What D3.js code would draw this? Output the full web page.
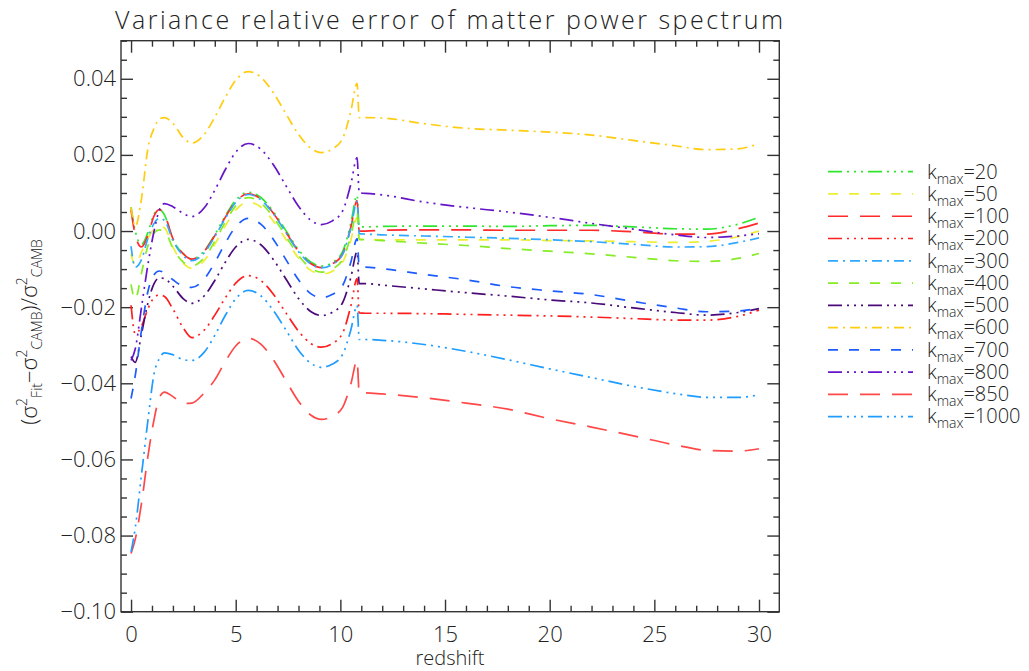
<!DOCTYPE html>
<html>
<head>
<meta charset="utf-8">
<script src="https://cdn.jsdelivr.net/npm/d3@7"></script>
<style>
  body { margin: 0; background: #fff; }
  text { font-family: "Open Sans", "DejaVu Sans", sans-serif; font-weight: 300; fill: #222; }
</style>
</head>
<body>
<script>
// redshift sample points
const redshift = [0, 0.2, 0.5, 0.8, 1.1, 1.35, 1.6, 2, 2.5, 2.9, 3.5, 4, 4.5, 5, 5.6, 6.2, 6.8, 7.4, 8, 8.6, 9.1, 9.6, 10.1, 10.5, 10.8, 10.9, 11.2, 12, 14, 16, 18, 20, 22, 24, 26, 27.5, 29, 30];

const kmax = [20, 50, 100, 200, 300, 400, 500, 600, 700, 800, 850, 1000];

const k20 = [0.0063, 0.0, -0.0035, -0.0005, 0.0045, 0.0057, 0.0042, -0.0022, -0.006, -0.0073, -0.0052, -0.001, 0.0039, 0.0081, 0.0102, 0.0088, 0.0051, 0.0001, -0.0049, -0.0082, -0.0092, -0.0083, -0.0055, 0.002, 0.0094, 0.0011, 0.0011, 0.0012, 0.0013, 0.0013, 0.0012, 0.0014, 0.0015, 0.0011, 0.0006, 0.0005, 0.0018, 0.0036];
const k50 = [-0.006, -0.009, -0.0055, -0.002, 0.0005, 0.0012, 0.0008, -0.0042, -0.0085, -0.0098, -0.0077, -0.0035, 0.0013, 0.0055, 0.0076, 0.0063, 0.0026, -0.0022, -0.0071, -0.0104, -0.0113, -0.0106, -0.0083, -0.0024, 0.0035, -0.0022, -0.0022, -0.0023, -0.0023, -0.0023, -0.0023, -0.0025, -0.0026, -0.0028, -0.003, -0.0027, -0.0015, 0.0];
const k100 = [0.0055, -0.001, -0.0042, -0.0012, 0.004, 0.0056, 0.0043, -0.002, -0.006, -0.0074, -0.0053, -0.0012, 0.0036, 0.0077, 0.0098, 0.0084, 0.0047, -0.0003, -0.0053, -0.0086, -0.0096, -0.0087, -0.0061, 0.001, 0.008, 0.0, 0.0, 0.0002, 0.0003, 0.0003, 0.0002, 0.0002, 0.0002, -0.0002, -0.0008, -0.0008, 0.0006, 0.0021];
const k200 = [-0.0195, -0.027, -0.025, -0.0205, -0.0175, -0.0168, -0.0172, -0.0205, -0.0255, -0.028, -0.026, -0.0221, -0.0176, -0.0137, -0.0117, -0.013, -0.0166, -0.0215, -0.0263, -0.0296, -0.0305, -0.0296, -0.0269, -0.0197, -0.0125, -0.0215, -0.0216, -0.0216, -0.0217, -0.0219, -0.0221, -0.0223, -0.0226, -0.023, -0.0234, -0.0234, -0.0224, -0.0208];
const k300 = [-0.004, -0.0095, -0.0075, -0.002, 0.002, 0.0033, 0.0028, -0.0025, -0.0065, -0.0078, -0.0057, -0.0015, 0.0033, 0.0075, 0.0096, 0.0082, 0.0045, -0.0004, -0.0054, -0.0087, -0.0097, -0.0088, -0.0062, 0.0008, 0.0078, -0.0007, -0.0008, -0.001, -0.0013, -0.0016, -0.0019, -0.0023, -0.0028, -0.0035, -0.0042, -0.0041, -0.003, -0.0018];
const k400 = [-0.014, -0.018, -0.011, -0.004, -0.0005, 0.0003, 0.0, -0.0045, -0.0082, -0.0092, -0.007, -0.0027, 0.0023, 0.0066, 0.0088, 0.0074, 0.0036, -0.0014, -0.0064, -0.0098, -0.0108, -0.01, -0.0076, -0.0013, 0.005, -0.0022, -0.0023, -0.0025, -0.0032, -0.0038, -0.0046, -0.0053, -0.006, -0.0069, -0.0078, -0.008, -0.0072, -0.0059];
const k500 = [-0.033, -0.0345, -0.027, -0.019, -0.0138, -0.0123, -0.0125, -0.0145, -0.0178, -0.019, -0.017, -0.013, -0.0082, -0.0042, -0.0022, -0.0036, -0.0075, -0.0126, -0.0177, -0.0212, -0.0222, -0.0214, -0.0189, -0.0122, -0.0055, -0.0138, -0.0138, -0.0142, -0.0152, -0.0162, -0.0171, -0.0181, -0.0189, -0.0202, -0.0214, -0.0221, -0.0214, -0.0204];
const k600 = [0.0062, 0.0012, 0.0085, 0.0215, 0.027, 0.0294, 0.0298, 0.0283, 0.0245, 0.0231, 0.0254, 0.0299, 0.0351, 0.0396, 0.0419, 0.0404, 0.0363, 0.0308, 0.0254, 0.0217, 0.0206, 0.0215, 0.0242, 0.0315, 0.0388, 0.0298, 0.0298, 0.0297, 0.0282, 0.027, 0.0265, 0.026, 0.0252, 0.0238, 0.0224, 0.0214, 0.0216, 0.023];
const k700 = [-0.044, -0.038, -0.026, -0.016, -0.0115, -0.0105, -0.011, -0.0128, -0.0145, -0.0148, -0.0126, -0.0083, -0.0032, 0.0011, 0.0033, 0.0018, -0.0022, -0.0075, -0.0128, -0.0165, -0.0175, -0.0167, -0.0144, -0.0082, -0.002, -0.0095, -0.0095, -0.0099, -0.0114, -0.0128, -0.0146, -0.0157, -0.0167, -0.0185, -0.0202, -0.0212, -0.021, -0.0202];
const k800 = [-0.034, -0.031, -0.02, -0.009, 0.0, 0.0055, 0.0072, 0.0064, 0.0046, 0.0038, 0.0061, 0.0107, 0.0161, 0.0207, 0.023, 0.0215, 0.0174, 0.0119, 0.0065, 0.0028, 0.0017, 0.0026, 0.0052, 0.0123, 0.0193, 0.01, 0.0099, 0.0095, 0.0076, 0.0062, 0.005, 0.0036, 0.002, 0.0005, -0.001, -0.0017, -0.0013, -0.0007];
const k850 = [-0.0847, -0.081, -0.0715, -0.0594, -0.0495, -0.0438, -0.0423, -0.0435, -0.0453, -0.0452, -0.0425, -0.0391, -0.0343, -0.0302, -0.0282, -0.0297, -0.0338, -0.0393, -0.0447, -0.0484, -0.0495, -0.0487, -0.0464, -0.0402, -0.034, -0.0425, -0.0425, -0.0428, -0.0438, -0.0452, -0.0468, -0.0493, -0.0515, -0.0538, -0.0562, -0.0576, -0.0578, -0.0572];
const k1000 = [-0.0843, -0.078, -0.064, -0.05, -0.0375, -0.0335, -0.032, -0.0325, -0.0338, -0.034, -0.0318, -0.0274, -0.0222, -0.0178, -0.0156, -0.017, -0.0209, -0.026, -0.0313, -0.0348, -0.0358, -0.035, -0.0325, -0.026, -0.0195, -0.0285, -0.0285, -0.0287, -0.0298, -0.0316, -0.0338, -0.0362, -0.0385, -0.0408, -0.0427, -0.0437, -0.0437, -0.043];

const seriesValues = [k20, k50, k100, k200, k300, k400, k500, k600, k700, k800, k850, k1000];

const xTicks = [0, 5, 10, 15, 20, 25, 30];
const yTicks = [-0.10, -0.08, -0.06, -0.04, -0.02, 0.00, 0.02, 0.04];

// line look per series
const colors = ["#2ee62e", "#eeee30", "#ff2a2a", "#ff1e1e", "#30a8ff", "#86ec26", "#4a0a78", "#ffcc10", "#1c5cff", "#6614c8", "#ff4848", "#1e9cff"];
const DDD = "14,5,2,5,2,5,2,5", DASH = "10,11", LONG = "20,12", DOT = "10,5,2,5";
const dashes = [DDD, DASH, LONG, DDD, DOT, DASH, DDD, DOT, DASH, DDD, LONG, DDD];

const W = 1029, H = 671;
const svg = d3.select("body").append("svg").attr("width", W).attr("height", H);
svg.append("rect").attr("width", W).attr("height", H).attr("fill", "#fff");

const x = d3.scaleLinear().domain([-0.48, 30.97]).range([121, 779.3]);
const y = d3.scaleLinear().domain([-0.10, 0.05]).range([611.7, 40.7]);

const axisColor = "#333";
function styleAxis(g) {
  g.select(".domain").remove();
  g.selectAll(".tick line").attr("stroke", axisColor).attr("stroke-width", 1.4);
  g.selectAll(".tick text").attr("fill", "#222").style("font-size", "22px");
}

const xMinor = d3.range(0, 31, 1).filter(d => d % 5 !== 0);
const yMinor = d3.range(-0.1, 0.0501, 0.005).map(d => +d.toFixed(3)).filter(d => Math.abs(Math.round(d * 1000)) % 20 !== 0);

// bottom
svg.append("g").attr("transform", "translate(0,611.7)")
  .call(d3.axisBottom(x).tickValues(xTicks).tickSize(-12).tickPadding(15).tickFormat(d3.format("d")))
  .call(styleAxis);
svg.append("g").attr("transform", "translate(0,611.7)")
  .call(d3.axisBottom(x).tickValues(xMinor).tickSize(-6).tickFormat(""))
  .call(styleAxis);
// top
svg.append("g").attr("transform", "translate(0,40.7)")
  .call(d3.axisTop(x).tickValues(xTicks).tickSize(-12).tickFormat(""))
  .call(styleAxis);
svg.append("g").attr("transform", "translate(0,40.7)")
  .call(d3.axisTop(x).tickValues(xMinor).tickSize(-6).tickFormat(""))
  .call(styleAxis);
// left
svg.append("g").attr("transform", "translate(121,0)")
  .call(d3.axisLeft(y).tickValues(yTicks).tickSize(-12).tickPadding(5).tickFormat(d3.format(".2f")))
  .call(styleAxis);
svg.append("g").attr("transform", "translate(121,0)")
  .call(d3.axisLeft(y).tickValues(yMinor).tickSize(-6).tickFormat(""))
  .call(styleAxis);
// right
svg.append("g").attr("transform", "translate(779.3,0)")
  .call(d3.axisRight(y).tickValues(yTicks).tickSize(-12).tickFormat(""))
  .call(styleAxis);
svg.append("g").attr("transform", "translate(779.3,0)")
  .call(d3.axisRight(y).tickValues(yMinor).tickSize(-6).tickFormat(""))
  .call(styleAxis);

svg.append("rect")
  .attr("x", 121).attr("y", 40.7).attr("width", 779.3 - 121).attr("height", 611.7 - 40.7)
  .attr("fill", "none").attr("stroke", axisColor).attr("stroke-width", 1.4);

// curves
const line = d3.line()
  .x((d, i) => x(redshift[i]))
  .y(d => y(d))
  .curve(d3.curveMonotoneX);

seriesValues.forEach((vals, i) => {
  svg.append("path")
    .datum(vals)
    .attr("d", line)
    .attr("fill", "none")
    .attr("stroke", colors[i])
    .attr("stroke-width", 1.7)
    .attr("stroke-dasharray", dashes[i]);
});

// title
svg.append("text")
  .attr("x", 449).attr("y", 29)
  .attr("text-anchor", "middle")
  .attr("textLength", 668).attr("lengthAdjust", "spacing")
  .style("font-size", "25px")
  .text("Variance relative error of matter power spectrum");

// x label
svg.append("text")
  .attr("x", 450).attr("y", 665)
  .attr("text-anchor", "middle")
  .style("font-size", "20px")
  .text("redshift");

// y label
const yl = svg.append("text")
  .attr("transform", "translate(37,332) rotate(-90)")
  .attr("text-anchor", "middle")
  .style("font-size", "22px");
yl.append("tspan").text("(σ");
yl.append("tspan").attr("dy", -10).style("font-size", "14px").text("2");
yl.append("tspan").attr("dy", 15).style("font-size", "14px").text("Fit");
yl.append("tspan").attr("dy", -5).text("−σ");
yl.append("tspan").attr("dy", -10).style("font-size", "14px").text("2");
yl.append("tspan").attr("dy", 15).style("font-size", "14px").text("CAMB");
yl.append("tspan").attr("dy", -5).text(")/σ");
yl.append("tspan").attr("dy", -10).style("font-size", "14px").text("2");
yl.append("tspan").attr("dy", 15).style("font-size", "14px").text("CAMB");

// legend
kmax.forEach((k, i) => {
  const y0 = 171.7 + i * 22.27;
  svg.append("line")
    .attr("x1", 828).attr("x2", 913).attr("y1", y0).attr("y2", y0)
    .attr("stroke", colors[i]).attr("stroke-width", 1.7)
    .attr("stroke-dasharray", dashes[i]);
  const t = svg.append("text").attr("x", 927).attr("y", y0 + 6.8).style("font-size", "20px");
  t.append("tspan").text("k");
  t.append("tspan").attr("dy", 5).style("font-size", "14px").text("max");
  t.append("tspan").attr("dy", -5).text("=" + k);
});
</script>
</body>
</html>
